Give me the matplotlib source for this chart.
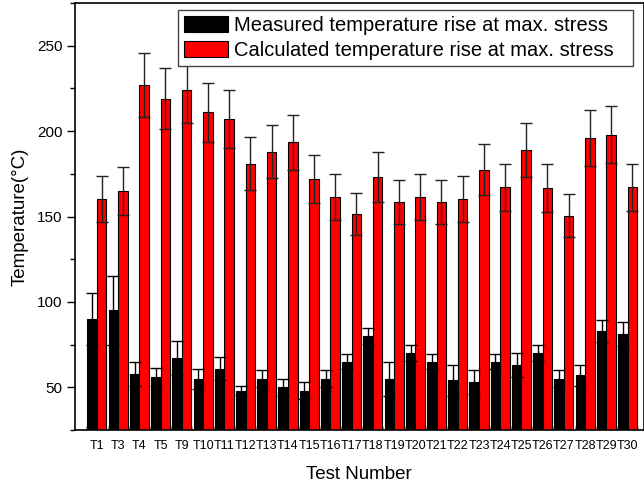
import numpy as np
import matplotlib
matplotlib.use('Agg')
import matplotlib.pyplot as plt
from matplotlib.ticker import MultipleLocator, FixedLocator

plt.rcParams['font.family'] = ['Liberation Sans', 'DejaVu Sans']

# データ
tests = ['T1', 'T3', 'T4', 'T5', 'T9', 'T10', 'T11', 'T12', 'T13', 'T14', 'T15', 'T16', 'T17',
         'T18', 'T19', 'T20', 'T21', 'T22', 'T23', 'T24', 'T25', 'T26', 'T27', 'T28', 'T29', 'T30']
measured = [90, 95, 58, 56, 67, 55, 61, 48, 55, 50, 48, 55, 65,
            80, 55, 70, 65, 54, 53, 65, 63, 70, 55, 57, 83, 81]
measured_err = [15, 20, 7, 5.5, 10, 6, 7, 2.5, 5, 5, 5, 5, 4.5,
                4.7, 10, 4.7, 4.5, 9, 7, 4.5, 7, 4.7, 5, 6, 6.6, 7]
calculated = [160.5, 165, 227, 219, 224, 211, 207, 181, 188, 193.5, 172, 161.5, 151.5,
              173, 158.5, 161.5, 158.5, 160.5, 177.5, 167, 189, 166.5, 150.5, 196, 198, 167]
calculated_err = [13.5, 14, 19, 18, 19, 17.4, 17, 15.3, 15.7, 16.2, 14.2, 13.5, 12.5,
                  14.7, 13, 13.5, 13, 13.5, 15, 14, 16, 14, 12.7, 16.4, 16.6, 14]

x = np.arange(1, len(tests) + 1)
w = 0.45

fig = plt.figure(figsize=(6.44, 4.87), dpi=100)
ax = fig.add_axes([75 / 644, 57 / 487, 568.5 / 644, 427 / 487])

ax.bar(x - w / 2, measured, w, yerr=measured_err, color='black', edgecolor='black',
       linewidth=0.8, error_kw=dict(ecolor='black', elinewidth=1.0, capsize=4, capthick=1.0),
       label='Measured temperature rise at max. stress')
ax.bar(x + w / 2, calculated, w, yerr=calculated_err, color='#ff0000', edgecolor='black',
       linewidth=0.8, error_kw=dict(ecolor='#222222', elinewidth=1.0, capsize=4, capthick=1.0),
       label='Calculated temperature rise at max. stress')

ax.set_xlim(-0.034, 26.75)
ax.set_ylim(25, 275)
ax.set_xticks(x)
ax.set_xticklabels(tests, fontsize=9)
ax.xaxis.set_minor_locator(FixedLocator(np.arange(0.5, len(tests) + 1, 1)))
ax.tick_params(axis='x', which='major', length=0, pad=7)
ax.tick_params(axis='x', which='minor', direction='in', length=3, width=0.6, color='#888888')
ax.yaxis.set_major_locator(MultipleLocator(50))
ax.yaxis.set_minor_locator(MultipleLocator(25))
ax.tick_params(axis='y', which='major', direction='out', length=6, width=1, labelsize=11, pad=3)
ax.tick_params(axis='y', which='minor', direction='out', length=3.5, width=1)
ax.tick_params(axis='y', which='both', right=True)

for s in ax.spines.values():
    s.set_linewidth(1.2)

ax.set_xlabel('Test Number', fontsize=13.5, labelpad=10)
ax.set_ylabel('Temperature(°C)', fontsize=13.5, labelpad=6)

leg = ax.legend(loc='upper left', bbox_to_anchor=(0.1812, 0.8618, 0.8003, 0.1218),
                mode='expand', fontsize=14.5, borderpad=0.3, labelspacing=0.3,
                handlelength=2.2, handleheight=0.8, handletextpad=0.3,
                fancybox=False, framealpha=1, borderaxespad=0)
leg.get_frame().set_edgecolor('#444444')
leg.get_frame().set_linewidth(1.0)

fig.savefig('out.png', dpi=100)
